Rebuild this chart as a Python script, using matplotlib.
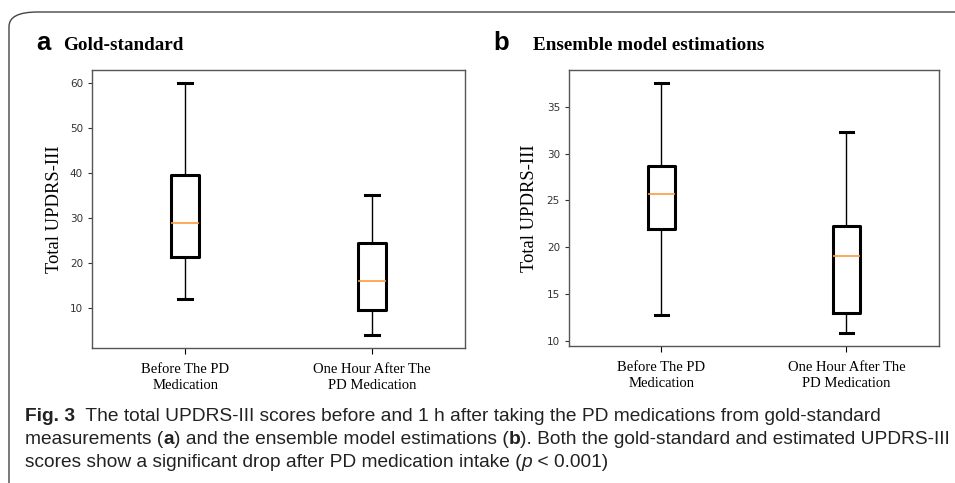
import matplotlib.pyplot as plt
from matplotlib.patches import FancyBboxPatch

# datos (whisker bajo, Q1, mediana, Q3, whisker alto)
grupos = ['Before The PD\nMedication', 'One Hour After The\nPD Medication']
oro_bajo = [12.0, 4.0]
oro_q1 = [21.4, 9.6]
oro_med = [29.0, 16.0]
oro_q3 = [39.6, 24.5]
oro_alto = [60.0, 35.0]

ens_bajo = [12.8, 10.8]
ens_q1 = [21.9, 12.95]
ens_med = [25.65, 19.05]
ens_q3 = [28.7, 22.3]
ens_alto = [37.55, 32.25]


def stats(bajo, q1, med, q3, alto):
    return [dict(whislo=b, q1=a, med=m, q3=c, whishi=d, fliers=[])
            for b, a, m, c, d in zip(bajo, q1, med, q3, alto)]


def caja(ax, datos, xlab):
    ax.bxp(datos, showfliers=False, widths=0.15,
           boxprops=dict(linewidth=2.2, color='black'),
           whiskerprops=dict(linewidth=1, color='black'),
           capprops=dict(linewidth=2.2, color='black'),
           medianprops=dict(linewidth=1.2, color='#ff9a3c'))
    ax.set_xticks([1, 2])
    ax.set_xticklabels(grupos, fontfamily='Liberation Serif', fontsize=10.5, linespacing=1.3)
    ax.set_ylabel('Total UPDRS-III', fontfamily='Liberation Serif', fontsize=13.4)
    ax.yaxis.set_label_coords(xlab, 0.5)
    ax.tick_params(axis='y', labelsize=7.5, labelcolor='#333333', length=3, colors='#333333')
    ax.tick_params(axis='x', length=4, pad=7)
    for s in ax.spines.values():
        s.set_color('#555555')
        s.set_linewidth(1.0)


fig = plt.figure(figsize=(9.55, 4.83), dpi=100)

# marco redondeado
marco = FancyBboxPatch((9 / 955, -0.1), 1.1, 1.1 - 12 / 483,
                       boxstyle='round,pad=0,rounding_size=0.03',
                       transform=fig.transFigure, fill=False,
                       edgecolor='#444444', linewidth=1.0)
fig.patches.append(marco)

ax1 = fig.add_axes([0.0963, 0.2795, 0.3906, 0.5756])
caja(ax1, stats(oro_bajo, oro_q1, oro_med, oro_q3, oro_alto), -0.078)

ax2 = fig.add_axes([0.5958, 0.2836, 0.3874, 0.571])
caja(ax2, stats(ens_bajo, ens_q1, ens_med, ens_q3, ens_alto), -0.085)

# titulos de los paneles
fig.text(36 / 955, 1 - 50 / 483, 'a', fontfamily='Liberation Sans', fontweight='bold',
         fontsize=18.5, va='baseline')
fig.text(63 / 955, 1 - 50 / 483, 'Gold-standard', fontfamily='Liberation Serif',
         fontweight='bold', fontsize=13.8, va='baseline')
fig.text(493 / 955, 1 - 50 / 483, 'b', fontfamily='Liberation Sans', fontweight='bold',
         fontsize=18.5, va='baseline')
fig.text(533 / 955, 1 - 50 / 483, 'Ensemble model estimations', fontfamily='Liberation Serif',
         fontweight='bold', fontsize=13.8, va='baseline')

# pie de figura con partes en negrita
lineas = [
    [('Fig. 3', 'bold', 'normal'),
     ('  The total UPDRS-III scores before and 1 h after taking the PD medications from gold-standard', 'normal', 'normal')],
    [('measurements (', 'normal', 'normal'), ('a', 'bold', 'normal'),
     (') and the ensemble model estimations (', 'normal', 'normal'), ('b', 'bold', 'normal'),
     ('). Both the gold-standard and estimated UPDRS-III', 'normal', 'normal')],
    [('scores show a significant drop after PD medication intake (', 'normal', 'normal'),
     ('p', 'normal', 'italic'), (' < 0.001)', 'normal', 'normal')],
]
ys = [421, 444, 467]
render = fig.canvas.get_renderer()
for linea, y in zip(lineas, ys):
    x = 25
    for texto, peso, estilo in linea:
        t = fig.text(x / 955, 1 - y / 483, texto, fontfamily='Liberation Sans', fontweight=peso,
                     fontstyle=estilo, fontsize=13.75, va='baseline', color='#222222')
        x += t.get_window_extent(render).width

fig.savefig('out.png', dpi=100)
